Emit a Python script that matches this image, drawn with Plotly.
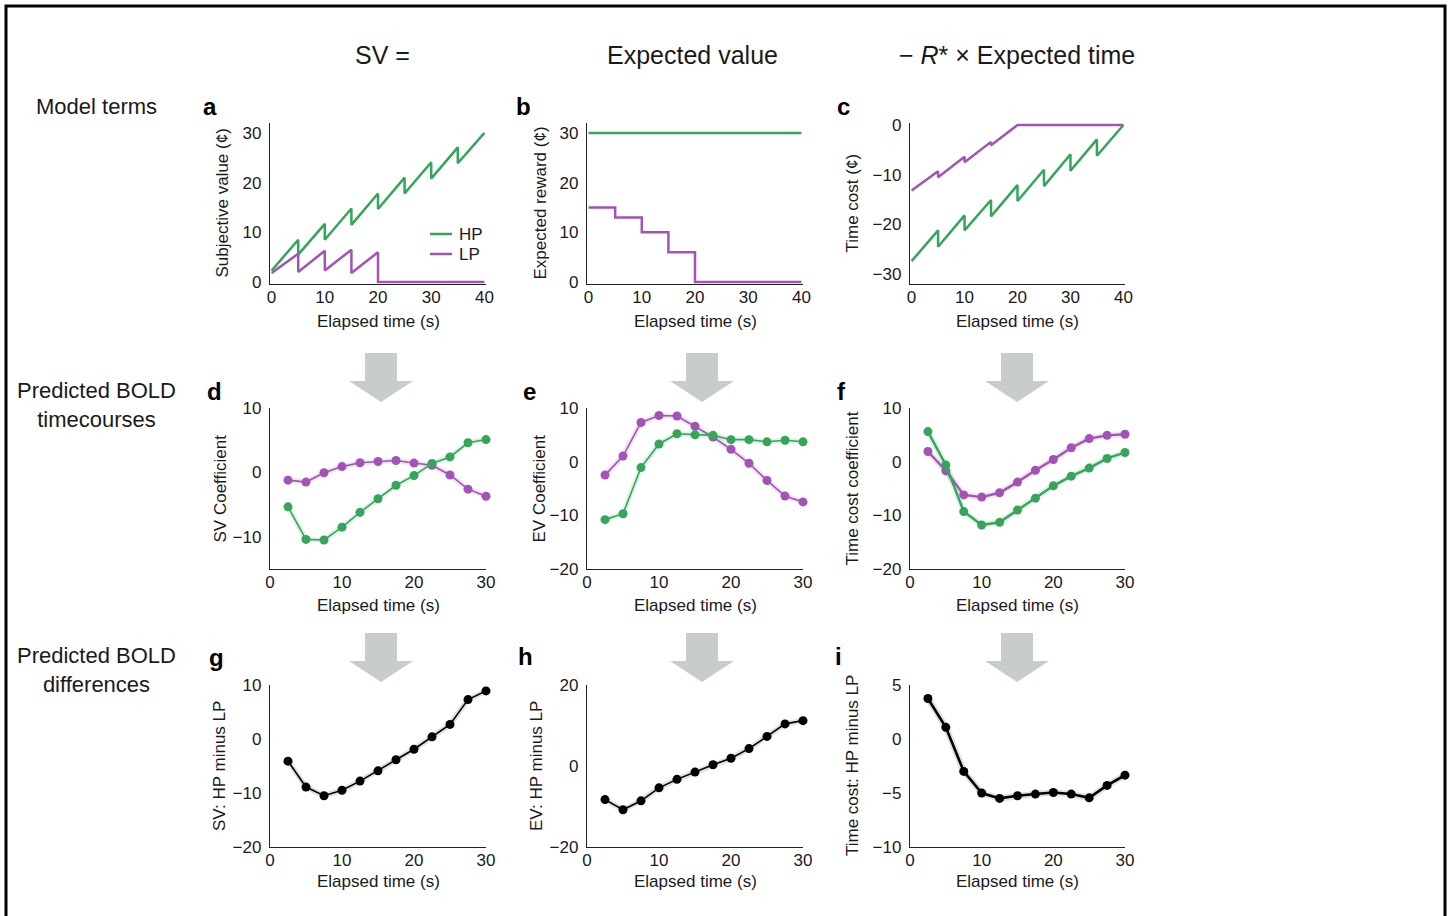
import plotly.graph_objects as go

W, H = 1452, 916
GREEN = '#34a55a'
PURPLE = '#a253b6'
GREEN_BAND = 'rgba(52,165,90,0.15)'
PURPLE_BAND = 'rgba(162,83,182,0.15)'
GRAY_BAND = 'rgba(120,120,120,0.22)'
TXT = '#1a1a1a'
FONT = 'Liberation Sans, Arial, Helvetica, sans-serif'
AX_FS = 17

# ---------------- data ----------------
# panel a: subjective value (sawtooth vertices)
a_t_hp = [0, 5, 5, 10, 10, 15, 15, 20, 20, 25, 25, 30, 30, 35, 35, 40]
a_v_hp = [2.3, 8.5, 5.5, 11.7, 8.5, 14.8, 11.5, 17.8, 14.7, 21.0, 17.8, 24.1, 20.8, 27.1, 23.9, 30.0]
a_t_lp = [0, 5, 5, 10, 10, 15, 15, 20, 20, 40]
a_v_lp = [1.8, 5.7, 2.0, 6.3, 2.3, 6.5, 1.8, 6.0, 0.0, 0.0]

# panel b: expected reward (step functions)
b_t_hp = [0, 40]
b_v_hp = [30, 30]
b_t_lp = [0, 5, 10, 15, 20, 40]
b_v_lp = [15, 13, 10, 6, 0, 0]

# panel c: time cost
c_t_hp = [0, 5, 5, 10, 10, 15, 15, 20, 20, 25, 25, 30, 30, 35, 35, 40]
c_v_hp = [-27.4, -21.2, -24.5, -18.2, -21.2, -15.1, -18.4, -12.1, -15.3, -9.0, -12.3, -5.9, -9.2, -2.9, -6.2, 0.0]
c_t_lp = [0, 5, 5, 10, 10, 15, 15, 20, 40]
c_v_lp = [-13.2, -9.3, -10.5, -6.4, -7.5, -3.4, -4.1, 0.0, 0.0]

# predicted BOLD time points
bold_t = [2.5, 5, 7.5, 10, 12.5, 15, 17.5, 20, 22.5, 25, 27.5, 30]

d_hp = [-5.35, -10.4, -10.5, -8.5, -6.2, -4.1, -2.0, -0.5, 1.4, 2.4, 4.6, 5.1]
d_lp = [-1.2, -1.5, -0.05, 0.9, 1.5, 1.7, 1.85, 1.45, 1.1, -0.4, -2.6, -3.7]

e_hp = [-10.8, -9.7, -1.1, 3.3, 5.2, 5.0, 4.9, 4.1, 4.1, 3.7, 4.0, 3.7]
e_lp = [-2.5, 1.05, 7.3, 8.6, 8.5, 6.6, 4.6, 2.3, -0.3, -3.5, -6.4, -7.5]

f_hp = [5.6, -0.6, -9.3, -11.8, -11.3, -9.0, -6.8, -4.5, -2.7, -1.2, 0.6, 1.7]
f_lp = [1.9, -1.7, -6.2, -6.6, -5.8, -3.8, -1.6, 0.4, 2.6, 4.3, 4.9, 5.1]

g_diff = [-4.1, -8.9, -10.5, -9.5, -7.8, -5.9, -3.85, -1.9, 0.4, 2.7, 7.3, 8.9]
h_diff = [-8.3, -10.8, -8.6, -5.4, -3.3, -1.5, 0.3, 1.9, 4.3, 7.3, 10.4, 11.2]
i_diff = [3.75, 1.08, -3.0, -5.0, -5.5, -5.25, -5.1, -4.95, -5.1, -5.45, -4.3, -3.35]

x_ticks_top = [0, 10, 20, 30, 40]
x_ticks_bold = [0, 10, 20, 30]

# ---------------- layout helpers ----------------
def px(x):
    return x / W

def py(y):
    return 1 - y / H

col_px = [(270, 486), (587, 803), (910, 1125)]
row_px = [(123, 284), (408, 569), (685, 847)]

fig = go.Figure()
layout = dict(
    width=W, height=H, margin=dict(l=0, r=0, t=0, b=0, pad=0, autoexpand=False),
    autosize=False,
    paper_bgcolor='white', plot_bgcolor='white', showlegend=False,
    font=dict(family=FONT, color=TXT, size=AX_FS),
)

panel_cfg = [
    # (row, col, xrange, xticks, yrange, yticks, ytitle, title_x)
    (0, 0, [-0.3, 40.3], x_ticks_top, [-0.4, 32], [0, 10, 20, 30], 'Subjective value (¢)', 222),
    (0, 1, [-0.3, 40.3], x_ticks_top, [-0.4, 32], [0, 10, 20, 30], 'Expected reward (¢)', 540),
    (0, 2, [-0.3, 40.3], x_ticks_top, [-32, 0.4], [-30, -20, -10, 0], 'Time cost (¢)', 852),
    (1, 0, [0, 30], x_ticks_bold, [-15, 10], [-10, 0, 10], 'SV Coefficient', 220),
    (1, 1, [0, 30], x_ticks_bold, [-20, 10], [-20, -10, 0, 10], 'EV Coefficient', 539),
    (1, 2, [0, 30], x_ticks_bold, [-20, 10], [-20, -10, 0, 10], 'Time cost coefficient', 852),
    (2, 0, [0, 30], x_ticks_bold, [-20, 10], [-20, -10, 0, 10], 'SV: HP minus LP', 219),
    (2, 1, [0, 30], x_ticks_bold, [-20, 20], [-20, 0, 20], 'EV: HP minus LP', 536),
    (2, 2, [0, 30], x_ticks_bold, [-10, 5], [-10, -5, 0, 5], 'Time cost: HP minus LP', 852),
]

annotations = []
axrefs = []
for k, (r, c, xr, xt, yr, yt, ytitle, tx) in enumerate(panel_cfg):
    n = k + 1
    xname = 'xaxis' if n == 1 else f'xaxis{n}'
    yname = 'yaxis' if n == 1 else f'yaxis{n}'
    xa = 'x' if n == 1 else f'x{n}'
    ya = 'y' if n == 1 else f'y{n}'
    axrefs.append((xa, ya))
    x0, x1 = col_px[c]
    y0, y1 = row_px[r]
    layout[xname] = dict(
        domain=[px(x0), px(x1)], anchor=ya, range=xr, tickvals=xt,
        showline=True, linecolor='#222', linewidth=1.3, showgrid=False,
        zeroline=False, ticks='', ticklen=0, tickfont=dict(size=AX_FS, color=TXT),
        ticklabelstandoff=-3, fixedrange=True, automargin=False,
    )
    layout[yname] = dict(
        domain=[py(y1), py(y0)], anchor=xa, range=yr, tickvals=yt,
        showline=True, linecolor='#222', linewidth=1.3, showgrid=False,
        zeroline=False, ticks='', ticklen=0, tickfont=dict(size=AX_FS, color=TXT),
        ticklabelstandoff=4, fixedrange=True, automargin=False,
    )
    # y title
    annotations.append(dict(
        x=px(tx), y=py((y0 + y1) / 2), xref='paper', yref='paper',
        text=ytitle, textangle=-90, showarrow=False,
        font=dict(size=AX_FS, color=TXT), xanchor='center', yanchor='middle'))
    # x title
    xt_y = {0: 321, 1: 605, 2: 881}[r]
    annotations.append(dict(
        x=px((x0 + x1) / 2), y=py(xt_y), xref='paper', yref='paper',
        text='Elapsed time (s)', showarrow=False,
        font=dict(size=AX_FS, color=TXT), xanchor='center', yanchor='middle'))

# ---------------- traces ----------------
def line(xa, ya, x, y, color, width, shape='linear'):
    fig.add_trace(go.Scatter(x=x, y=y, mode='lines', xaxis=xa, yaxis=ya,
                             line=dict(color=color, width=width, shape=shape),
                             hoverinfo='skip'))

def bold(xa, ya, x, y, color, band, width, msize):
    fig.add_trace(go.Scatter(x=x, y=y, mode='lines', xaxis=xa, yaxis=ya,
                             line=dict(color=band, width=width + 4),
                             hoverinfo='skip'))
    fig.add_trace(go.Scatter(x=x, y=y, mode='lines+markers', xaxis=xa, yaxis=ya,
                             line=dict(color=color, width=width),
                             marker=dict(color=color, size=msize),
                             cliponaxis=False, hoverinfo='skip'))

xa, ya = axrefs[0]
line(xa, ya, a_t_hp, a_v_hp, GREEN, 2.5)
line(xa, ya, a_t_lp, a_v_lp, PURPLE, 2.5)
xa, ya = axrefs[1]
line(xa, ya, b_t_hp, b_v_hp, GREEN, 2.5)
line(xa, ya, b_t_lp, b_v_lp, PURPLE, 2.5, 'hv')
xa, ya = axrefs[2]
line(xa, ya, c_t_lp, c_v_lp, PURPLE, 2.5)
line(xa, ya, c_t_hp, c_v_hp, GREEN, 2.5)

xa, ya = axrefs[3]
bold(xa, ya, bold_t, d_lp, PURPLE, PURPLE_BAND, 1.6, 9)
bold(xa, ya, bold_t, d_hp, GREEN, GREEN_BAND, 1.6, 9)
xa, ya = axrefs[4]
bold(xa, ya, bold_t, e_lp, PURPLE, PURPLE_BAND, 1.6, 9)
bold(xa, ya, bold_t, e_hp, GREEN, GREEN_BAND, 1.6, 9)
xa, ya = axrefs[5]
bold(xa, ya, bold_t, f_lp, PURPLE, PURPLE_BAND, 2.4, 9)
bold(xa, ya, bold_t, f_hp, GREEN, GREEN_BAND, 2.4, 9)
xa, ya = axrefs[6]
bold(xa, ya, bold_t, g_diff, '#000000', GRAY_BAND, 1.6, 9)
xa, ya = axrefs[7]
bold(xa, ya, bold_t, h_diff, '#000000', GRAY_BAND, 1.6, 9)
xa, ya = axrefs[8]
bold(xa, ya, bold_t, i_diff, '#000000', GRAY_BAND, 2.6, 9)

# ---------------- text ----------------
headers = [('SV =', 382), ('Expected value', 692), ('− <i>R</i>* × Expected time', 1017)]
for t, x in headers:
    annotations.append(dict(x=px(x), y=py(55), xref='paper', yref='paper', text=t,
                            showarrow=False, font=dict(size=25, color=TXT),
                            xanchor='center', yanchor='middle'))

row_labels = [('Model terms', 106), ('Predicted BOLD<br>timecourses', 405),
              ('Predicted BOLD<br>differences', 670)]
for t, y in row_labels:
    annotations.append(dict(x=px(97), y=py(y), xref='paper', yref='paper', text=t,
                            showarrow=False, font=dict(size=22, color=TXT),
                            xanchor='center', yanchor='middle'))

letters = [('a', 210, 106), ('b', 523, 106), ('c', 843, 106),
           ('d', 214, 391), ('e', 529, 391), ('f', 841, 391),
           ('g', 216, 657), ('h', 525, 656), ('i', 838, 656)]
for t, x, y in letters:
    annotations.append(dict(x=px(x), y=py(y), xref='paper', yref='paper',
                            text=f'<b>{t}</b>', showarrow=False,
                            font=dict(size=24, color='#000'),
                            xanchor='center', yanchor='middle'))

# legend in panel a
legend_items = [('HP', GREEN, 234), ('LP', PURPLE, 254)]
shapes = []
for name, col, y in legend_items:
    shapes.append(dict(type='line', xref='paper', yref='paper',
                       x0=px(430), x1=px(452), y0=py(y), y1=py(y),
                       line=dict(color=col, width=2.5)))
    annotations.append(dict(x=px(457), y=py(y), xref='paper', yref='paper', text=name,
                            showarrow=False, font=dict(size=AX_FS, color=TXT),
                            xanchor='left', yanchor='middle'))

# arrows
def arrow(cx, top, head_start, tip, shaft_half=16, head_half=32):
    pts = [(cx - shaft_half, top), (cx + shaft_half, top), (cx + shaft_half, head_start),
           (cx + head_half, head_start), (cx, tip), (cx - head_half, head_start),
           (cx - shaft_half, head_start)]
    path = 'M ' + ' L '.join(f'{px(x):.5f},{py(y):.5f}' for x, y in pts) + ' Z'
    return dict(type='path', xref='paper', yref='paper', path=path,
                fillcolor='#c9cccc', line=dict(width=0), layer='below')

for cx in (381, 702, 1017):
    shapes.append(arrow(cx, 353, 381, 402))
    shapes.append(arrow(cx, 633, 661, 682))

# frame (bottom edge lies below the visible page)
shapes.append(dict(type='rect', xref='paper', yref='paper',
                   x0=px(6), x1=px(1445), y0=py(930), y1=py(6),
                   line=dict(color='#000', width=3)))

layout['annotations'] = annotations
layout['shapes'] = shapes
fig.update_layout(**layout)

page_fix = (
    "document.body.style.margin='0';document.body.style.padding='0';"
    "document.body.style.overflow='hidden';document.documentElement.style.overflow='hidden';"
)

fig.write_html('out.html', config={'displayModeBar': False}, post_script=page_fix)
